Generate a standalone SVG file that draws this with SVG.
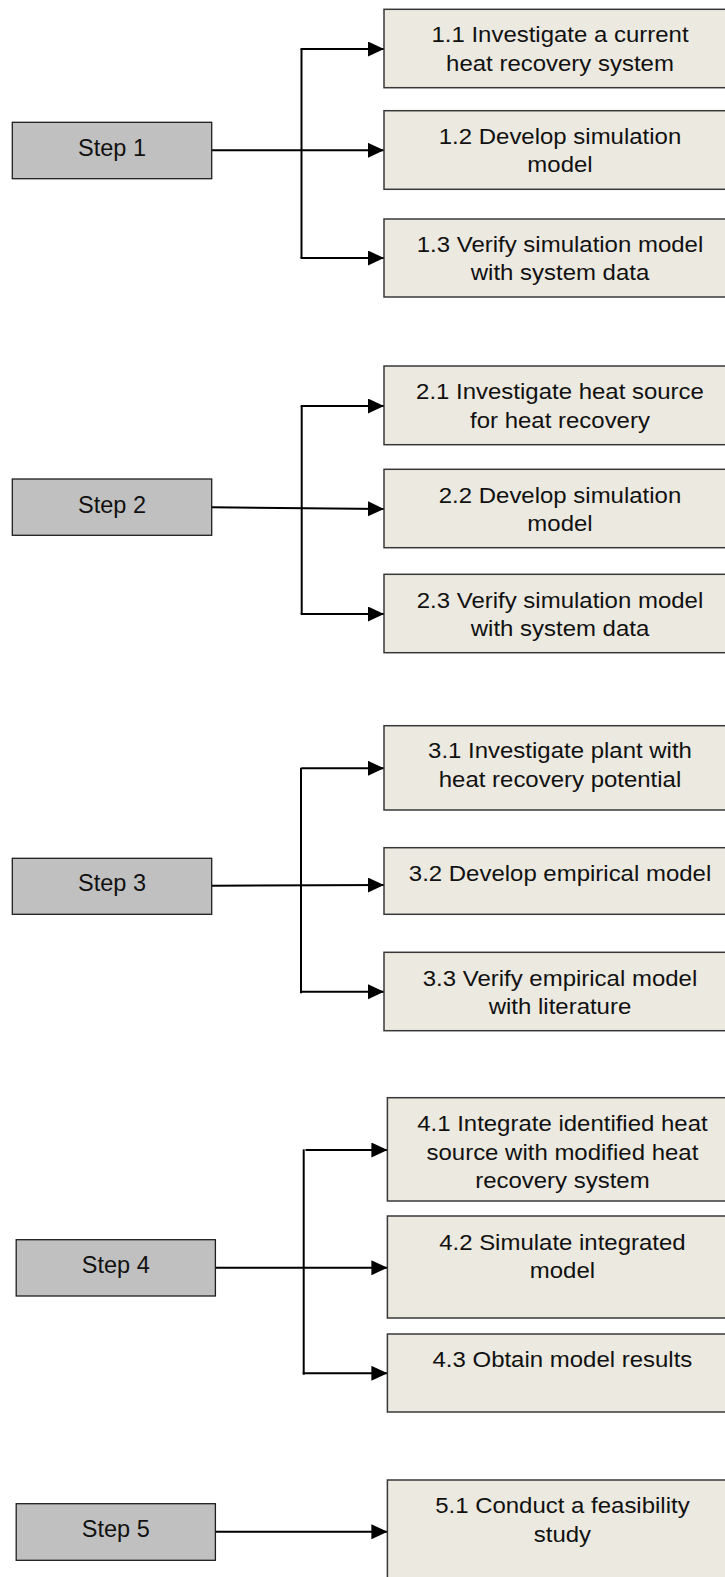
<svg xmlns="http://www.w3.org/2000/svg" width="725" height="1577" viewBox="0 0 725 1577">
  <style>
    .step { fill: #c0c0c0; stroke: #1e1e1e; stroke-width: 1.3; }
    .task { fill: #ece9e0; stroke: #383838; stroke-width: 1.5; }
    .steplabel { font-family: "Liberation Sans", Arial, sans-serif; font-size: 23.5px; fill: #111; text-anchor: middle; }
    .tasklabel { font-family: "Liberation Sans", Arial, sans-serif; font-size: 22px; fill: #111; text-anchor: middle; }
    .wire { fill: none; stroke: #000; stroke-width: 2; }
    .arrow { fill: none; stroke: #000; stroke-width: 2; marker-end: url(#head); }
  </style>
  <defs>
    <marker id="head" markerUnits="userSpaceOnUse" markerWidth="16" markerHeight="16" refX="16" refY="7.5" orient="auto">
      <path d="M0,0 L16,7.5 L0,15 Z" fill="#000"/>
    </marker>
  </defs>
  <rect width="725" height="1577" fill="#fff"/>

  <!-- connectors -->
  <g id="connectors">
    <!-- step 1 -->
    <line class="wire" x1="301.5" y1="49" x2="301.5" y2="258"/>
    <line class="arrow" x1="211.7" y1="150.3" x2="384" y2="150.3"/>
    <line class="arrow" x1="300.5" y1="49" x2="384" y2="49"/>
    <line class="arrow" x1="300.5" y1="258" x2="384" y2="258"/>
    <!-- step 2 -->
    <line class="wire" x1="301.7" y1="406" x2="301.7" y2="614"/>
    <line class="arrow" x1="211.7" y1="507.3" x2="384" y2="509"/>
    <line class="arrow" x1="300.7" y1="406" x2="384" y2="406"/>
    <line class="arrow" x1="300.7" y1="614" x2="384" y2="614"/>
    <!-- step 3 -->
    <line class="wire" x1="301" y1="767.7" x2="301" y2="993.3"/>
    <line class="arrow" x1="211.7" y1="885.7" x2="384" y2="885"/>
    <line class="arrow" x1="301.4" y1="768.3" x2="384" y2="768.3"/>
    <line class="arrow" x1="301.4" y1="991.7" x2="384" y2="991.7"/>
    <!-- step 4 -->
    <line class="wire" x1="303.7" y1="1149.3" x2="303.7" y2="1374.7"/>
    <line class="arrow" x1="215.4" y1="1267.7" x2="387.4" y2="1267.7"/>
    <line class="arrow" x1="305.5" y1="1150" x2="387.4" y2="1150"/>
    <line class="arrow" x1="302.7" y1="1373.3" x2="387.4" y2="1373.3"/>
    <!-- step 5 -->
    <line class="arrow" x1="215.4" y1="1531.7" x2="387.4" y2="1531.7"/>
  </g>

  <!-- step 1 -->
  <g id="step1">
    <rect class="step" x="12.3" y="122.3" width="199.4" height="56.4"/>
    <text class="steplabel" x="112" y="156">Step 1</text>
  </g>
  <g id="task1-1">
    <rect class="task" x="384" y="9.3" width="360" height="78.4"/>
    <text class="tasklabel" transform="translate(560,42) scale(1.09,1)"><tspan x="0">1.1 Investigate a current</tspan><tspan x="0" dy="28.7">heat recovery system</tspan></text>
  </g>
  <g id="task1-2">
    <rect class="task" x="384" y="110.7" width="360" height="78.6"/>
    <text class="tasklabel" transform="translate(560,143.5) scale(1.09,1)"><tspan x="0">1.2 Develop simulation</tspan><tspan x="0" dy="28.7">model</tspan></text>
  </g>
  <g id="task1-3">
    <rect class="task" x="384" y="219" width="360" height="78"/>
    <text class="tasklabel" transform="translate(560,251.8) scale(1.09,1)"><tspan x="0">1.3 Verify simulation model</tspan><tspan x="0" dy="28.7">with system data</tspan></text>
  </g>

  <!-- step 2 -->
  <g id="step2">
    <rect class="step" x="12.3" y="479" width="199.4" height="56.3"/>
    <text class="steplabel" x="112" y="512.5">Step 2</text>
  </g>
  <g id="task2-1">
    <rect class="task" x="384" y="366" width="360" height="78.7"/>
    <text class="tasklabel" transform="translate(560,399.2) scale(1.09,1)"><tspan x="0">2.1 Investigate heat source</tspan><tspan x="0" dy="28.7">for heat recovery</tspan></text>
  </g>
  <g id="task2-2">
    <rect class="task" x="384" y="469.3" width="360" height="78.4"/>
    <text class="tasklabel" transform="translate(560,502.5) scale(1.09,1)"><tspan x="0">2.2 Develop simulation</tspan><tspan x="0" dy="28.7">model</tspan></text>
  </g>
  <g id="task2-3">
    <rect class="task" x="384" y="574.3" width="360" height="78.4"/>
    <text class="tasklabel" transform="translate(560,607.5) scale(1.09,1)"><tspan x="0">2.3 Verify simulation model</tspan><tspan x="0" dy="28.7">with system data</tspan></text>
  </g>

  <!-- step 3 -->
  <g id="step3">
    <rect class="step" x="12.3" y="858.3" width="199.4" height="56"/>
    <text class="steplabel" x="112" y="891">Step 3</text>
  </g>
  <g id="task3-1">
    <rect class="task" x="384" y="725.7" width="360" height="84.3"/>
    <text class="tasklabel" transform="translate(560,758.4) scale(1.09,1)"><tspan x="0">3.1 Investigate plant with</tspan><tspan x="0" dy="28.7">heat recovery potential</tspan></text>
  </g>
  <g id="task3-2">
    <rect class="task" x="384" y="847.7" width="360" height="66.6"/>
    <text class="tasklabel" transform="translate(560,880.8) scale(1.09,1)">3.2 Develop empirical model</text>
  </g>
  <g id="task3-3">
    <rect class="task" x="384" y="952.3" width="360" height="78.4"/>
    <text class="tasklabel" transform="translate(560,985.5) scale(1.09,1)"><tspan x="0">3.3 Verify empirical model</tspan><tspan x="0" dy="28.7">with literature</tspan></text>
  </g>

  <!-- step 4 -->
  <g id="step4">
    <rect class="step" x="16.2" y="1239.7" width="199.2" height="56.3"/>
    <text class="steplabel" x="115.8" y="1273">Step 4</text>
  </g>
  <g id="task4-1">
    <rect class="task" x="387.4" y="1097.7" width="360" height="103.3"/>
    <text class="tasklabel" transform="translate(562.4,1131) scale(1.09,1)"><tspan x="0">4.1 Integrate identified heat</tspan><tspan x="0" dy="28.7">source with modified heat</tspan><tspan x="0" dy="28.7">recovery system</tspan></text>
  </g>
  <g id="task4-2">
    <rect class="task" x="387.4" y="1216" width="360" height="102"/>
    <text class="tasklabel" transform="translate(562.4,1249.5) scale(1.09,1)"><tspan x="0">4.2 Simulate integrated</tspan><tspan x="0" dy="28.7">model</tspan></text>
  </g>
  <g id="task4-3">
    <rect class="task" x="387.4" y="1334" width="360" height="78"/>
    <text class="tasklabel" transform="translate(562.4,1366.8) scale(1.09,1)">4.3 Obtain model results</text>
  </g>

  <!-- step 5 -->
  <g id="step5">
    <rect class="step" x="16.2" y="1503.7" width="199.2" height="56.6"/>
    <text class="steplabel" x="115.8" y="1537">Step 5</text>
  </g>
  <g id="task5-1">
    <rect class="task" x="387.4" y="1480" width="360" height="120"/>
    <text class="tasklabel" transform="translate(562.4,1513.3) scale(1.09,1)"><tspan x="0">5.1 Conduct a feasibility</tspan><tspan x="0" dy="28.7">study</tspan></text>
  </g>
</svg>
